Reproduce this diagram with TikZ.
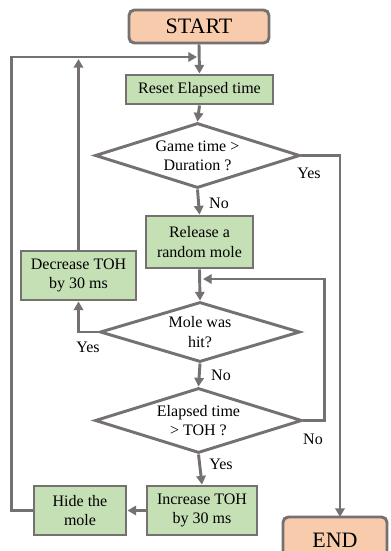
\documentclass[tikz,border=0pt]{standalone}
\usepackage{fontspec}
\setmainfont{Liberation Serif}
\usetikzlibrary{shapes.geometric,arrows.meta}
\definecolor{lc}{HTML}{757171}
\definecolor{peach}{HTML}{F8CBAD}
\definecolor{green}{HTML}{C5E0B4}
\tikzset{
  base/.style={draw=lc,line width=2.2pt,align=center,inner sep=0pt,font=\fontsize{12pt}{14.5pt}\selectfont},
  term/.style={base,fill=peach,rounded corners=4pt,font=\fontsize{16.5pt}{18pt}\selectfont},
  proc/.style={base,fill=green},
  dec/.style={base,diamond,fill=white,aspect=3},
  conn/.style={draw=lc,line width=2.2pt,-{Triangle[length=6.5pt,width=7pt]}},
  lbl/.style={font=\fontsize{12pt}{14pt}\selectfont,inner sep=0pt}
}
\begin{document}
\begin{tikzpicture}[x=0.75pt,y=-0.75pt]
\useasboundingbox (0,0) rectangle (390,551);
\clip (0,0) rectangle (390,551);
\node[term,minimum width=140*0.75pt,minimum height=33*0.75pt] (start) at (199,26.5) {START};
\node[proc,minimum width=147*0.75pt,minimum height=29*0.75pt] (reset) at (199.5,89.5) {Reset Elapsed time};
\node[dec,minimum width=205*0.75pt,minimum height=65*0.75pt] (d1) at (197.5,155.5) {Game time >\\Duration ?};
\node[proc,minimum width=107*0.75pt,minimum height=52*0.75pt] (rel) at (199.5,242) {Release a\\random mole};
\node[proc,minimum width=115*0.75pt,minimum height=49*0.75pt] (decr) at (78.5,275.5) {Decrease TOH\\by 30 ms};
\node[dec,minimum width=200*0.75pt,minimum height=60*0.75pt] (d2) at (200,332) {Mole was\\hit?};
\node[dec,minimum width=207*0.75pt,minimum height=65*0.75pt] (d3) at (198.5,420.5) {Elapsed time\\> TOH ?};
\node[proc,minimum width=110*0.75pt,minimum height=49*0.75pt] (inc) at (202,510.5) {Increase TOH\\by 30 ms};
\node[proc,minimum width=92*0.75pt,minimum height=49*0.75pt] (hide) at (80,510.5) {Hide the\\mole};
\node[term,minimum width=104*0.75pt,minimum height=46*0.75pt] (end) at (335,540) {END};
\coordinate (top) at (197,57);
\coordinate (endin) at (340,517);
\coordinate (ret) at (203,279);
% connectors
\draw[conn] (start.south) -- (reset.north);
\draw[conn] (reset.south) -- (d1.north);
\draw[conn] (d1.south) -- (rel.north);
\draw[conn] (rel.south) -- (d2.north);
\draw[conn] (d2.south) -- (d3.north);
\draw[conn] (d3.south) -- (inc.north);
\draw[conn] (inc.west) -- (hide.east);
\draw[conn] (d1.east) -| (endin);
\draw[conn] (d2.west) -| (decr.south);
\draw[conn] (decr.north) -- (decr.north |- 0,59);
\draw[conn] (hide.west) -- ++(-21,0) |- (top);
\draw[conn] (d3.east) -- ++(21,0) |- (ret);
% labels
\node[lbl] (l1) at (309,173) {Yes};
\node[lbl] (l2) at (219,203) {No};
\node[lbl] (l3) at (88,347) {Yes};
\node[lbl] (l4) at (221,375) {No};
\node[lbl] (l5) at (221,464) {Yes};
\node[lbl] (l6) at (313,439) {No};
\end{tikzpicture}
\end{document}
